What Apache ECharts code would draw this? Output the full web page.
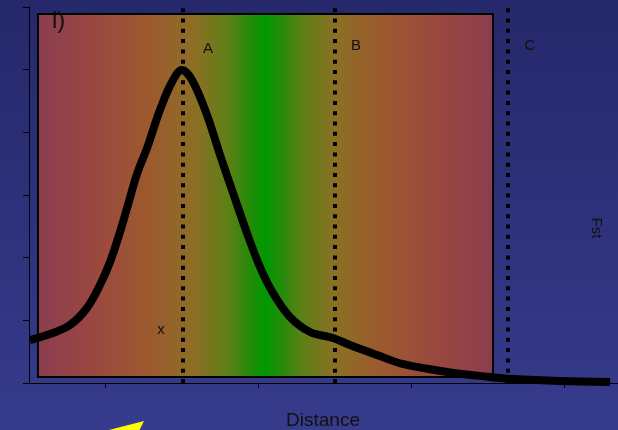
<!DOCTYPE html>
<html>
<head>
<meta charset="utf-8">
<script src="https://cdn.jsdelivr.net/npm/echarts@6/dist/echarts.min.js"></script>
<style>
html,body{margin:0;padding:0;}
#c{width:618px;height:430px;}
</style>
</head>
<body>
<div id="c"></div>
<script>
// Data
var curveX = [-0.49, -0.359, -0.229, -0.118, -0.033, 0.033, 0.098, 0.150, 0.209, 0.275, 0.359, 0.438, 0.503, 0.569, 0.667, 0.752, 0.837, 0.928, 1.013, 1.098, 1.209, 1.340, 1.490, 1.601, 1.778, 1.950, 2.235, 2.516, 2.667, 2.974, 3.301];
var curveY = [0.686, 0.782, 0.925, 1.197, 1.564, 1.931, 2.409, 2.840, 3.335, 3.750, 4.356, 4.803, 4.994, 4.835, 4.276, 3.638, 3.032, 2.393, 1.851, 1.436, 1.053, 0.814, 0.718, 0.606, 0.447, 0.300, 0.176, 0.096, 0.064, 0.032, 0.016];
var markerNames = ['A', 'B', 'C'];
var markerX = [0.51, 1.503, 2.634];
var xTicks = [0, 1, 2, 3];
var panelX = [-0.438, 2.536];
var panelY = [0.096, 5.888];

var chart = echarts.init(document.getElementById('c'));
var curve = curveX.map(function (x, i) { return [x, curveY[i]]; });

var markLines = markerX.map(function (x) {
  return [{ coord: [x, 0] }, { coord: [x, 6] }];
});

var panelGrad = new echarts.graphic.LinearGradient(0, 0, 1, 0, [
  { offset: 0, color: '#8a3d4f' },
  { offset: 0.12, color: '#9a4740' },
  { offset: 0.25, color: '#9c5a2e' },
  { offset: 0.35, color: '#8a7024' },
  { offset: 0.42, color: '#5c8016' },
  { offset: 0.47, color: '#1f8c08' },
  { offset: 0.5, color: '#009800' },
  { offset: 0.53, color: '#1f8c08' },
  { offset: 0.58, color: '#5c8016' },
  { offset: 0.65, color: '#8a7024' },
  { offset: 0.75, color: '#9c5a2e' },
  { offset: 0.88, color: '#9a4740' },
  { offset: 1, color: '#8a3d4f' }
]);

var txt = { fontFamily: 'Liberation Sans, Arial, sans-serif', fill: '#111' };

chart.setOption({
  backgroundColor: new echarts.graphic.LinearGradient(0, 0, 0, 1, [
    { offset: 0, color: '#25286a' },
    { offset: 1, color: '#363b8c' }
  ]),
  animation: false,
  grid: { left: 29, right: 0, top: 7, bottom: 47 },
  xAxis: {
    type: 'value',
    min: -0.4967,
    max: 3.3529,
    axisLine: { onZero: false, lineStyle: { color: '#000', width: 1 } },
    axisTick: { show: true, length: 5, lineStyle: { color: '#000' }, customValues: xTicks },
    axisLabel: { show: false },
    splitLine: { show: false }
  },
  yAxis: {
    type: 'value',
    min: 0,
    max: 6,
    interval: 1,
    axisLine: { show: true, onZero: false, lineStyle: { color: '#000', width: 1 } },
    axisTick: { show: true, length: 6, lineStyle: { color: '#000' } },
    axisLabel: { show: false },
    splitLine: { show: false }
  },
  series: [
    {
      type: 'line',
      data: [],
      z: 1,
      silent: true,
      markArea: {
        silent: true,
        itemStyle: { color: panelGrad, borderColor: '#000', borderWidth: 2 },
        data: [[{ coord: [panelX[0], panelY[1]] }, { coord: [panelX[1], panelY[0]] }]]
      }
    },
    {
      type: 'line',
      data: curve,
      z: 3,
      smooth: 0.35,
      symbol: 'none',
      clip: false,
      lineStyle: { color: '#000', width: 8, cap: 'butt', join: 'round' },
      markLine: {
        silent: true,
        symbol: 'none',
        label: { show: false },
        lineStyle: { color: '#000', width: 4, type: [4, 6.3], cap: 'butt' },
        data: markLines
      }
    }
  ],
  graphic: [
    { type: 'text', z: 100, left: 52, top: 9, style: Object.assign({ text: 'i)', fontSize: 24 }, txt) },
    { type: 'text', z: 100, x: 208, y: 49, style: Object.assign({ text: markerNames[0], fontSize: 15, align: 'center', verticalAlign: 'middle' }, txt) },
    { type: 'text', z: 100, x: 356, y: 46, style: Object.assign({ text: markerNames[1], fontSize: 15, align: 'center', verticalAlign: 'middle' }, txt) },
    { type: 'text', z: 100, x: 530, y: 46, style: Object.assign({ text: markerNames[2], fontSize: 15, align: 'center', verticalAlign: 'middle' }, txt) },
    { type: 'text', z: 100, x: 161, y: 330, style: Object.assign({ text: 'x', fontSize: 15, align: 'center', verticalAlign: 'middle' }, txt) },
    { type: 'text', z: 100, x: 596, y: 228, rotation: -Math.PI / 2, style: Object.assign({ text: 'Fst', fontSize: 15, align: 'center', verticalAlign: 'middle' }, txt) },
    { type: 'text', z: 100, x: 323, y: 421, style: Object.assign({ text: 'Distance', fontSize: 19, align: 'center', verticalAlign: 'middle' }, txt) },
    { type: 'polygon', z: 100, shape: { points: [[105, 431], [144, 421], [139, 431]] }, style: { fill: '#ffff00' } }
  ]
});
</script>
</body>
</html>
